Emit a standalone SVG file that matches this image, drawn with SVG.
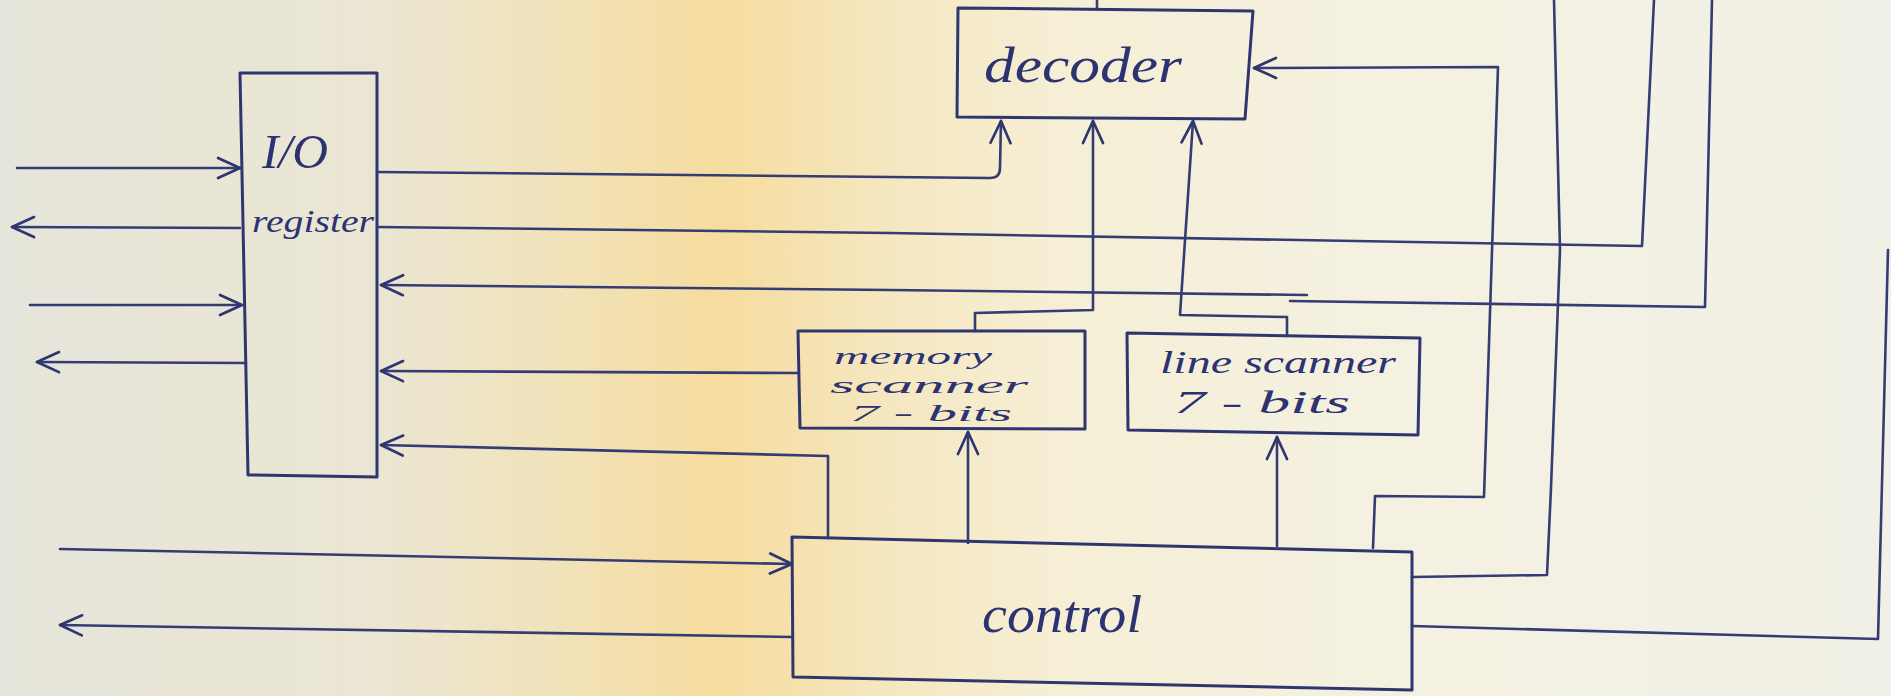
<svg xmlns="http://www.w3.org/2000/svg" width="1891" height="696" viewBox="0 0 1891 696">
<defs>
<linearGradient id="paper" x1="0" y1="0" x2="1" y2="0">
<stop offset="0" stop-color="#e6e5db"/>
<stop offset="0.2" stop-color="#ebe6d3"/>
<stop offset="0.3" stop-color="#f1e2b8"/>
<stop offset="0.38" stop-color="#f6dc9e"/>
<stop offset="0.46" stop-color="#f5e6bd"/>
<stop offset="0.56" stop-color="#f6efd6"/>
<stop offset="0.75" stop-color="#f4f1e2"/>
<stop offset="1" stop-color="#f1f0e6"/>
</linearGradient>
<marker id="ah" viewBox="-26 -14 30 28" refX="0" refY="0" markerWidth="30" markerHeight="28" markerUnits="userSpaceOnUse" orient="auto">
<path d="M-22,-10 L0,0 L-22,10" fill="none" stroke="#2f366f" stroke-width="2.7" stroke-linecap="round" stroke-linejoin="round"/>
</marker>
</defs>
<style>
.box{fill:none;stroke:#2f366f;stroke-width:3;stroke-linejoin:round}
.wire{fill:none;stroke:#353c74;stroke-width:2.6;stroke-linejoin:round;stroke-linecap:round}
.arr{marker-end:url(#ah)}
.lbl{font-family:"Liberation Serif","DejaVu Serif",serif;font-style:italic;fill:#2c3370}
</style>
<rect x="0" y="0" width="1891" height="696" fill="url(#paper)"/>

<g id="connectors">
<path class="wire arr" d="M17,168 L240,168"/>
<path class="wire arr" d="M240,228 L12,227"/>
<path class="wire arr" d="M30,305 L242,305"/>
<path class="wire arr" d="M246,363 L37,362"/>
<path class="wire arr" d="M377,172 L890,177 L990,178 Q1000,178 1000,168 L1001,121"/>
<path class="wire" d="M377,227 L890,233 L1642,246 L1654,0"/>
<path class="wire" d="M1712,0 L1705,307 L1290,301"/>
<path class="wire arr" d="M1307,295 L890,290 L381,285"/>
<path class="wire arr" d="M798,373 L381,371"/>
<path class="wire arr" d="M828,538 L828,456 L381,445"/>
<path class="wire arr" d="M975,331 L975,313 L1093,310 L1093,121"/>
<path class="wire arr" d="M1287,336 L1287,317 L1180,315 L1193,121"/>
<path class="wire arr" d="M968,543 L968,432"/>
<path class="wire arr" d="M1277,546 L1277,437"/>
<path class="wire arr" d="M1373,548 L1375,496 L1484,497 L1498,67 L1254,68"/>
<path class="wire" d="M1412,577 L1547,575 L1551,488 L1560,250 L1554,0"/>
<path class="wire" d="M1412,626 L1878,639 L1888,250"/>
<path class="wire arr" d="M60,549 L792,564"/>
<path class="wire arr" d="M792,637 L60,625"/>
<path class="wire" d="M1097,0 L1097,9"/>
</g>

<g id="io-register">
<path class="box" d="M240,73 L377,73 L377,477 L248,475 Z"/>
<text class="lbl" x="262" y="168" font-size="48" textLength="66" lengthAdjust="spacingAndGlyphs">I/O</text>
<text class="lbl" x="252" y="232" font-size="32" textLength="122" lengthAdjust="spacingAndGlyphs">register</text>
</g>

<g id="decoder">
<path class="box" d="M958,8 L1253,11 L1245,119 L957,117 Z"/>
<text class="lbl" x="984" y="82" font-size="50" textLength="198" lengthAdjust="spacingAndGlyphs">decoder</text>
</g>

<g id="memory-scanner">
<path class="box" d="M798,331 L1085,331 L1085,429 L800,428 Z"/>
<text class="lbl" x="834" y="364" font-size="24" textLength="158" lengthAdjust="spacingAndGlyphs">memory</text>
<text class="lbl" x="830" y="393" font-size="24" textLength="198" lengthAdjust="spacingAndGlyphs">scanner</text>
<text class="lbl" x="850" y="421" font-size="24" textLength="162" lengthAdjust="spacingAndGlyphs">7 - bits</text>
</g>

<g id="line-scanner">
<path class="box" d="M1127,333 L1420,338 L1418,435 L1128,430 Z"/>
<text class="lbl" x="1160" y="373" font-size="32" textLength="236" lengthAdjust="spacingAndGlyphs">line scanner</text>
<text class="lbl" x="1174" y="413" font-size="32" textLength="176" lengthAdjust="spacingAndGlyphs">7 - bits</text>
</g>

<g id="control">
<path class="box" d="M792,537 L1412,552 L1412,690 L793,677 Z"/>
<text class="lbl" x="982" y="632" font-size="52" textLength="160" lengthAdjust="spacingAndGlyphs">control</text>
</g>
</svg>
